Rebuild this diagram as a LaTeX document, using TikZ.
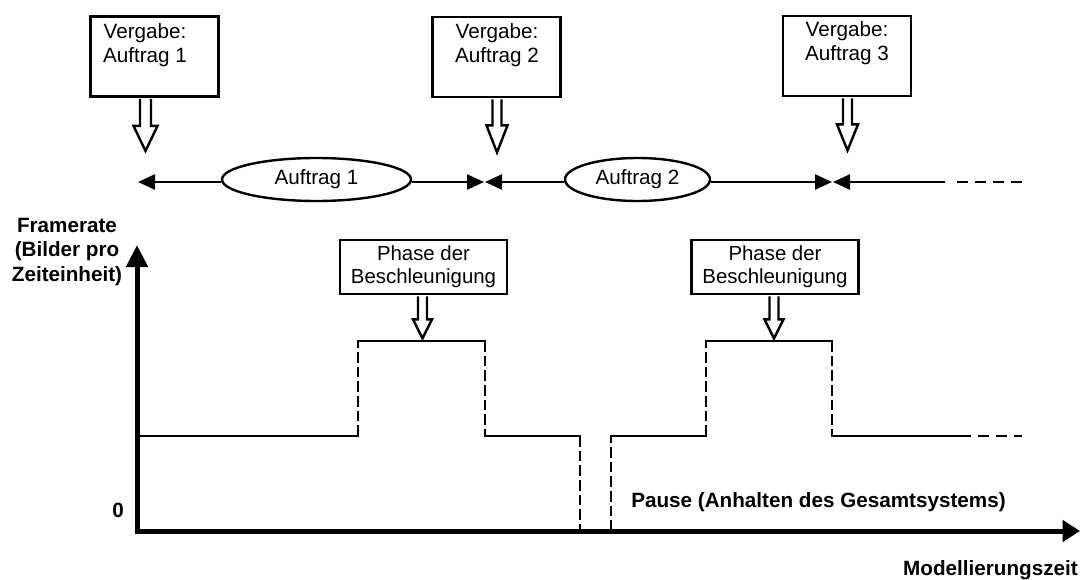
\documentclass[tikz,border=0pt]{standalone}
\usepackage{fontspec}
\setmainfont{Liberation Sans}
\usetikzlibrary{arrows.meta,shapes.geometric}
\newcommand\blockarrow[5]{% #1 top point, #2 stem length, #3 head length, #4 stem half width, #5 head half width
  \draw[hollow] ([yshift=-0.9pt]#1) ++(-#4,0) -- ++(0,#2) -- ++({#4-#5},0) -- ++(#5,#3) -- ++(#5,-#3) -- ++({#4-#5},0) -- ++(0,-#2);}
\begin{document}
\begin{tikzpicture}[x=0.75pt,y=-0.75pt,
  lab/.style={font=\fontsize{15.5}{18}\selectfont, inner sep=0pt, align=center},
  blab/.style={font=\fontsize{15.5}{18.4}\selectfont\bfseries, inner sep=0pt, align=center},
  callbox/.style={draw, line width=1.8pt, fill=white, minimum width=96pt, minimum height=60pt, inner sep=0pt},
  phasebox/.style={draw, line width=1.8pt, fill=white, minimum width=125pt, minimum height=40.5pt, inner sep=0pt, font=\fontsize{15.3}{17.3}\selectfont, align=center},
  ell/.style={draw, ellipse, line width=1.8pt, fill=white, minimum width=141.75pt, minimum height=32.25pt, inner sep=0pt, font=\fontsize{15.5}{18}\selectfont},
  hollow/.style={draw, fill=white, line width=1.8pt, line join=miter},
  tl/.style={line width=1.8pt},
  tip/.style={-{Triangle[length=12.75pt,width=11.25pt]}},
  axis/.style={line width=3.75pt, {Triangle[length=16.5pt,width=15.75pt]}-{Triangle[length=13pt,width=15.75pt]}},
  stepline/.style={line width=1.8pt, line cap=rect},
  stepdash/.style={line width=1.8pt, dash pattern=on 8pt off 3pt},
  taildash/.style={line width=1.8pt, dash pattern=on 8.25pt off 5.25pt}]
\useasboundingbox (0,0) rectangle (1081,579);

% callout boxes
\node[callbox] (v1) at (154.5,56.5) {};
\node[callbox] (v2) at (496.5,57) {};
\node[callbox] (v3) at (847,56) {};
\node[lab] (v1t) at (145,45) {Vergabe:\\Auftrag 1};
\node[lab] (v2t) at (497,45) {Vergabe:\\Auftrag 2};
\node[lab] (v3t) at (847,43) {Vergabe:\\Auftrag 3};
\path (v1.south) ++(-9,0) coordinate (a1);
\path (v2.south) ++(0.5,0) coordinate (a2);
\path (v3.south) ++(0.5,0) coordinate (a3);
\blockarrow{a1}{27}{25}{5.5}{12}
\blockarrow{a2}{26}{27}{4.5}{10.5}
\blockarrow{a3}{26}{26}{4.5}{10.5}

% timeline
\coordinate (L) at (138,182);
\coordinate (m1) at (484,182);
\coordinate (m2) at (832,182);
\coordinate (r1) at (945,182);
\coordinate (r2) at (957,182);
\coordinate (r3) at (1023,182);
\node[ell] (e1) at (316.5,179.5) {Auftrag 1};
\node[ell, minimum width=108.75pt] (e2) at (637.5,179.5) {Auftrag 2};
\draw[tl, tip] (e1.west |- L) -- (L);
\draw[tl, tip] (e1.east |- L) -- (m1);
\draw[tl, tip] (e2.west |- L) -- ([xshift=0.75pt]m1);
\draw[tl, tip] (e2.east |- L) -- (m2);
\draw[tl, tip] (r1) -- ([xshift=0.75pt]m2);
\draw[taildash] (r2) -- (r3);

% axes
\coordinate (O) at (137,531);
\coordinate (Y) at (137,245);
\coordinate (X) at (1080,531);
\draw[axis] (Y) -- (O) -- (X);
\node[blab] (ylab) at (67,252) {Framerate\\(Bilder pro\\Zeiteinheit)};
\node[blab, anchor=base] (zero) at (118,517) {0};
\node[blab, anchor=base east] (xlab) at (1078,575) {Modellierungszeit};
\node[blab, anchor=base west] (pause) at (631,507) {Pause (Anhalten des Gesamtsystems)};

% phase boxes
\node[phasebox] (p1) at (423.5,267) {Phase der\\Beschleunigung};
\node[phasebox] (p2) at (775,267) {Phase der\\Beschleunigung};
\path (p1.south) ++(-1,0) coordinate (pa1);
\path (p2.south) ++(-1,0) coordinate (pa2);
\blockarrow{pa1}{23}{19}{4.5}{9.5}
\blockarrow{pa2}{23}{19}{4.5}{9.5}

% frame rate curve
\draw[stepline] (O |- 0,436) -- (358,436);
\draw[stepdash] (358,436) -- (358,341);
\draw[stepline] (358,341) -- (485,341);
\draw[stepdash] (485,341) -- (485,436);
\draw[stepline] (485,436) -- (580,436);
\draw[stepdash] (580,436) -- (580,531);
\draw[stepdash] (611,531) -- (611,436);
\draw[stepline] (611,436) -- (706,436);
\draw[stepdash] (706,436) -- (706,341);
\draw[stepline] (706,341) -- (832,341);
\draw[stepdash] (832,341) -- (832,436);
\draw[stepline] (832,436) -- (960,436);
\draw[taildash] (960,436) -- (1022,436);
\end{tikzpicture}
\end{document}
